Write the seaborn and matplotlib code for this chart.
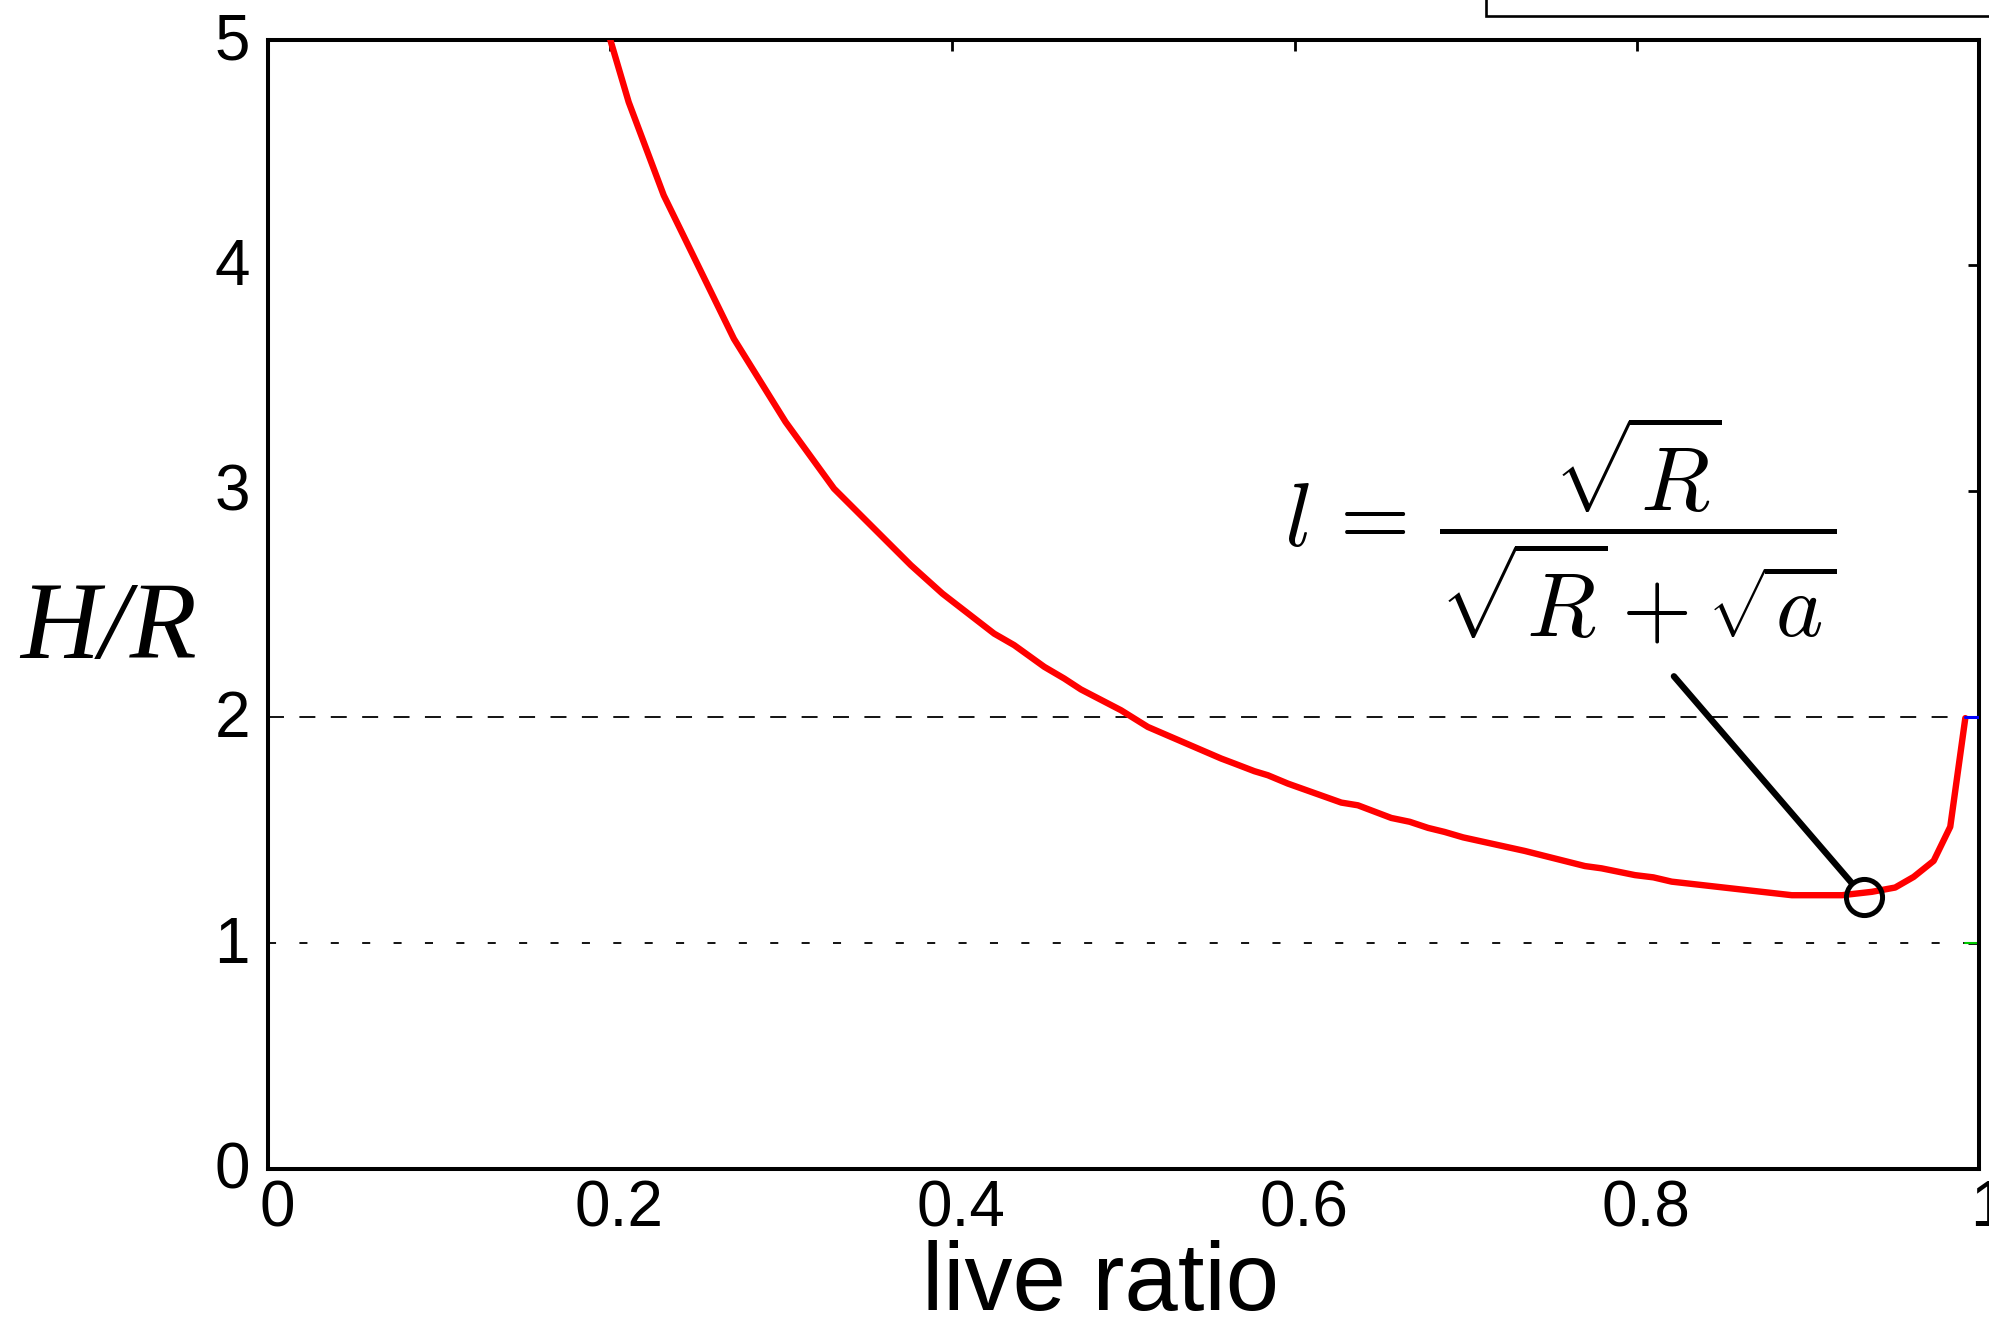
import matplotlib
matplotlib.use("Agg")
import matplotlib.pyplot as plt
import matplotlib.patches as mpatches
import matplotlib.transforms as mtransforms
import numpy as np
import pandas as pd
import seaborn as sns

# ---------------- data ----------------
live_ratio = [0.2000, 0.2108, 0.2313, 0.2723, 0.3025, 0.3308, 0.3757, 0.3942,
              0.4244, 0.4361, 0.4537, 0.4654, 0.4751, 0.4985, 0.5142, 0.5571,
              0.5648, 0.5765, 0.5844, 0.5961, 0.6273, 0.6370, 0.6565, 0.6673,
              0.6780, 0.6877, 0.6985, 0.7345, 0.7697, 0.7794, 0.7989, 0.8097,
              0.8204, 0.8906, 0.9199, 0.9374, 0.9510, 0.9618, 0.9735, 0.9832,
              0.9920]
h_over_r = [5.000, 4.723, 4.310, 3.675, 3.307, 3.012, 2.673, 2.547,
            2.370, 2.319, 2.223, 2.171, 2.123, 2.031, 1.957, 1.817,
            1.795, 1.761, 1.743, 1.706, 1.622, 1.610, 1.554, 1.537,
            1.510, 1.492, 1.468, 1.408, 1.341, 1.331, 1.301, 1.291,
            1.272, 1.212, 1.212, 1.227, 1.246, 1.293, 1.364, 1.515,
            1.996]

blue_x = [0.992, 1.0]
blue_y = [2.0, 2.0]
green_x = [0.992, 1.0]
green_y = [1.0, 1.0]

optimum_x = [0.9329]
optimum_y = [1.202]
label_start = (0.8217, 2.181)

ref_levels = [2.0, 1.0]

x_ticks = [0, 0.2, 0.4, 0.6, 0.8, 1.0]
x_tick_labels = ["0", "0.2", "0.4", "0.6", "0.8", "1"]
y_ticks = [0, 1, 2, 3, 4, 5]
y_tick_labels = ["0", "1", "2", "3", "4", "5"]

formula = r"$l\, =\, \dfrac{\sqrt{R}}{\sqrt{R}+\sqrt{a}}$"

# ---------------- style ----------------
sns.set_style("white")
plt.rcParams["font.family"] = ["Liberation Sans", "DejaVu Sans"]
plt.rcParams["mathtext.fontset"] = "cm"
plt.rcParams["lines.scale_dashes"] = False
plt.rcParams["text.color"] = "black"
plt.rcParams["axes.labelcolor"] = "black"

DPI = 100
fig = plt.figure(figsize=(19.90, 13.17), dpi=DPI)
fig.patch.set_facecolor("white")
ax = fig.add_axes([268 / 1990, 1 - 1169 / 1317, (1979 - 268) / 1990, (1169 - 39.5) / 1317])
ax.set_facecolor("white")

# legend-like box cut off at the top right
fig.patches.append(mpatches.Rectangle((1486 / 1990, 1 - 15.7 / 1317), 0.4, 0.1,
                                      transform=fig.transFigure, facecolor="white",
                                      edgecolor="black", linewidth=1.9, zorder=0))

# reference lines
ax.axhline(ref_levels[0], color="black", linewidth=1.3, linestyle=(0, (11.5, 11.1)), zorder=1)
ax.axhline(ref_levels[1], color="black", linewidth=1.3, linestyle=(0, (5.8, 16.8)), zorder=1)

df = pd.DataFrame({"live ratio": live_ratio, "H/R": h_over_r})
sns.lineplot(data=df, x="live ratio", y="H/R", ax=ax, color="#ff0000", linewidth=4.6,
             sort=False, estimator=None, zorder=3)
sns.lineplot(x=green_x, y=green_y, ax=ax, color="#00cc00", linewidth=1.5, sort=False,
             estimator=None, zorder=2)
sns.lineplot(x=blue_x, y=blue_y, ax=ax, color="#0000ff", linewidth=2.2, sort=False,
             estimator=None, zorder=6)

# optimum marker and pointer line
ax.plot(optimum_x, optimum_y, marker="o", markersize=26, markerfacecolor="none",
        markeredgecolor="black", markeredgewidth=3.6, linestyle="none", zorder=5)
ax.annotate("", xy=(optimum_x[0], optimum_y[0]), xytext=label_start,
            arrowprops=dict(arrowstyle="-", linewidth=4.6, color="black",
                            shrinkA=0, shrinkB=14), zorder=5)
ax.text(0.7551, 2.827, formula, fontsize=65, ha="center", va="center",
        color="black", zorder=5)

ax.set_xlim(0, 1)
ax.set_ylim(0, 5)
ax.set_xticks(x_ticks)
ax.set_xticklabels(x_tick_labels)
ax.set_yticks(y_ticks)
ax.set_yticklabels(y_tick_labels)

for side in ["left", "right", "top", "bottom"]:
    ax.spines[side].set_visible(True)
    ax.spines[side].set_color("black")
    ax.spines[side].set_linewidth(2.9)

ax.tick_params(axis="both", which="major", direction="in", length=8, width=2.0,
               color="black", top=True, right=True, labelsize=46, labelcolor="black")
ax.tick_params(axis="x", pad=7.5)
ax.tick_params(axis="y", pad=13)

dx = mtransforms.ScaledTranslation(9 / DPI, 0, fig.dpi_scale_trans)
for lab in ax.get_xticklabels():
    lab.set_transform(lab.get_transform() + dx)
dy = mtransforms.ScaledTranslation(0, 4 / DPI, fig.dpi_scale_trans)
for lab in ax.get_yticklabels():
    lab.set_transform(lab.get_transform() + dy)

ax.set_xlabel("live ratio", fontsize=69, color="black", va="baseline")
ax.xaxis.set_label_coords((1100 - 268) / 1711, (1169 - 1310) / 1130)
ax.set_ylabel("H/R", fontsize=79, rotation=0, family=["Liberation Serif"],
              style="italic", color="black", ha="center", va="baseline")
ax.yaxis.set_label_coords((109 - 268) / 1711, (1169 - 658) / 1130)

ax.grid(False)
fig.savefig("out.png", dpi=DPI, facecolor="white")
